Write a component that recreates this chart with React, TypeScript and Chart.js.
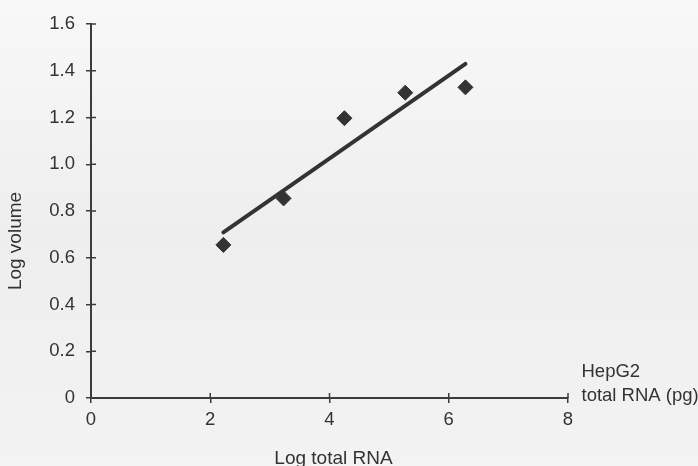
import React, { useEffect, useRef } from "react";
import { Chart, registerables } from "chart.js";

Chart.register(...registerables);

// ---- data ----
const rnaLog = [2.22, 3.23, 4.25, 5.27, 6.28];
const volumeLog = [0.655, 0.854, 1.197, 1.306, 1.329];
const fitX = [2.22, 6.28];
const fitY = [0.709, 1.429];
const xTickLabels = ["0", "2", "4", "6", "8"];
const yTickLabels = ["0", "0.2", "0.4", "0.6", "0.8", "1.0", "1.2", "1.4", "1.6"];
const xTitle = "Log total RNA";
const yTitle = "Log volume";
const noteLines = ["HepG2", "total RNA (pg)"];

const INK = "#333333";
const AXIS = "#3c3c3c";
const FONT = "'Liberation Sans', Arial, Helvetica, sans-serif";

const decorPlugin = {
  id: "decor",
  beforeDraw(chart: any) {
    const { ctx, width, height } = chart;
    ctx.save();
    const g = ctx.createLinearGradient(0, 0, 0, height);
    g.addColorStop(0, "#f8f8f8");
    g.addColorStop(0.5, "#eeeeee");
    g.addColorStop(1, "#f3f3f3");
    ctx.fillStyle = g;
    ctx.fillRect(0, 0, width, height);
    ctx.restore();
  },
  afterDraw(chart: any) {
    const { ctx, chartArea } = chart;
    const xs = chart.scales.x;
    const ys = chart.scales.y;
    ctx.save();
    // inner halves of the crossing ticks
    ctx.strokeStyle = AXIS;
    ctx.lineWidth = 1.5;
    ctx.beginPath();
    xs.ticks.forEach((_t: any, i: number) => {
      const px = xs.getPixelForTick(i);
      ctx.moveTo(px, chartArea.bottom);
      ctx.lineTo(px, chartArea.bottom - 5);
    });
    ys.ticks.forEach((_t: any, i: number) => {
      const py = ys.getPixelForTick(i);
      ctx.moveTo(chartArea.left, py);
      ctx.lineTo(chartArea.left + 5, py);
    });
    ctx.stroke();

    ctx.fillStyle = INK;
    // x title
    ctx.font = `19px ${FONT}`;
    ctx.textAlign = "center";
    ctx.textBaseline = "alphabetic";
    ctx.fillText(xTitle, (chartArea.left + chartArea.right) / 2 + 4, chartArea.bottom + 66);
    // y title
    ctx.save();
    ctx.translate(chartArea.left - 70, (chartArea.top + chartArea.bottom) / 2 + 30);
    ctx.rotate(-Math.PI / 2);
    ctx.fillText(yTitle, 0, 0);
    ctx.restore();
    // note at end of x axis
    ctx.font = `18.5px ${FONT}`;
    ctx.textAlign = "left";
    const nx = xs.getPixelForValue(8) + 13.5;
    ctx.fillText(noteLines[0], nx, chartArea.bottom - 21);
    ctx.fillText(noteLines[1], nx, chartArea.bottom + 3);
    ctx.restore();
  },
};

export default function App() {
  const ref = useRef<HTMLCanvasElement | null>(null);
  useEffect(() => {
    if (!ref.current) return;
    const chart = new Chart(ref.current, {
      type: "scatter",
      data: {
        datasets: [
          {
            type: "line",
            data: fitX.map((x, i) => ({ x, y: fitY[i] })),
            borderColor: INK,
            borderWidth: 4,
            borderCapStyle: "round",
            pointRadius: 0,
            fill: false,
          } as any,
          {
            type: "scatter",
            data: rnaLog.map((x, i) => ({ x, y: volumeLog[i] })),
            pointStyle: "rectRot",
            pointRadius: 7.5,
            pointHoverRadius: 7.5,
            backgroundColor: INK,
            borderColor: INK,
            borderWidth: 1,
          } as any,
        ],
      },
      options: {
        responsive: false,
        animation: false,
        events: [],
        layout: { padding: { top: 24, right: 130, left: 0, bottom: 0 } },
        plugins: { legend: { display: false }, tooltip: { enabled: false } },
        scales: {
          x: {
            type: "linear",
            min: 0,
            max: 8,
            afterFit(scale: any) {
              scale.height = 68;
              scale.paddingLeft = 0;
              scale.paddingRight = 0;
            },
            afterBuildTicks(scale: any) {
              scale.ticks = xTickLabels.map((_l, i) => ({ value: i * 2 }));
            },
            ticks: {
              color: INK,
              font: { family: FONT, size: 18.5 },
              padding: 6,
              maxRotation: 0,
              autoSkip: false,
              callback: (_v: any, i: number) => xTickLabels[i],
            },
            grid: { drawOnChartArea: false, drawTicks: true, tickLength: 5, color: AXIS, lineWidth: 1.5 },
            border: { display: true, color: AXIS, width: 2 },
          },
          y: {
            type: "linear",
            min: 0,
            max: 1.6,
            afterFit(scale: any) {
              scale.width = 91;
              scale.paddingTop = 0;
              scale.paddingBottom = 0;
            },
            afterBuildTicks(scale: any) {
              scale.ticks = yTickLabels.map((_l, i) => ({ value: i * 0.2 }));
            },
            ticks: {
              color: INK,
              font: { family: FONT, size: 18.5 },
              padding: 11,
              autoSkip: false,
              callback: (_v: any, i: number) => yTickLabels[i],
            },
            grid: { drawOnChartArea: false, drawTicks: true, tickLength: 5, color: AXIS, lineWidth: 1.5 },
            border: { display: true, color: AXIS, width: 2 },
          },
        },
      },
      plugins: [decorPlugin],
    });
    return () => chart.destroy();
  }, []);
  return (
    <div style={{ position: "absolute", left: 0, top: 0, width: 698, height: 466 }}>
      <canvas ref={ref} width={698} height={466} />
    </div>
  );
}
